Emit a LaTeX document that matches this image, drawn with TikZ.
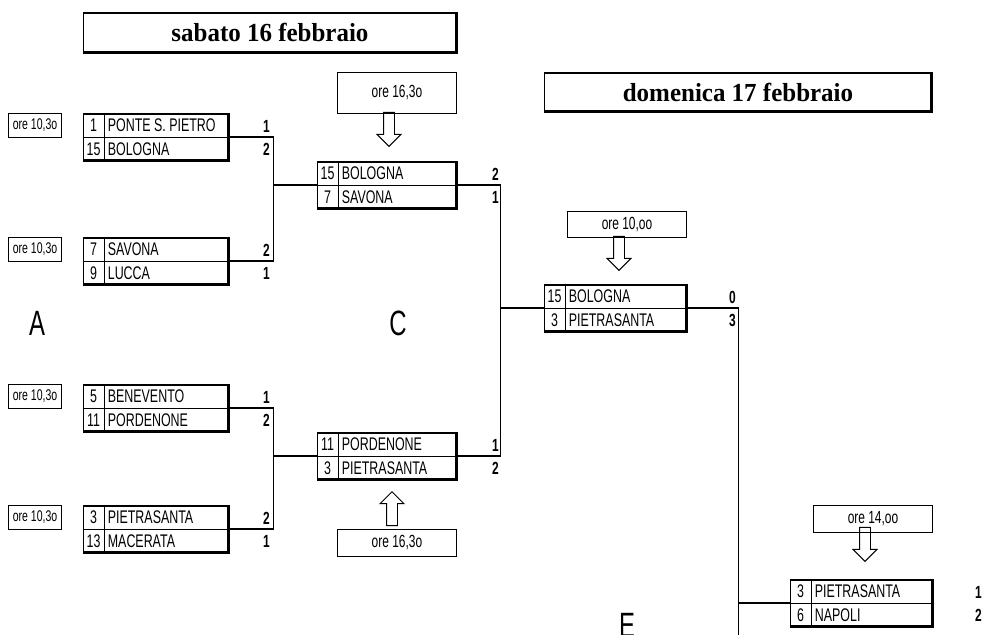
\documentclass[tikz,border=0pt]{standalone}
\usepackage{fontspec}
\setmainfont{Liberation Sans}
\newfontfamily\narrowfont[FakeStretch=0.68]{Liberation Sans}
\newfontfamily\titlefont[FakeStretch=0.96]{Liberation Serif}
\usetikzlibrary{calc,positioning,shapes.arrows}

\newcommand{\pxu}{0.025cm}

% one match: name, centre, width, seed/team on top, seed/team below
\newcommand{\matchbox}[7]{%
  \node[matchframe,minimum width=#3*\pxu] (#1) at (#2) {};
  \draw[divider] (#1.west) -- (#1.east);
  \draw[divider] ($(#1.north west)+(22,0)$) -- ($(#1.south west)+(22,0)$);
  \node[seed] (#1-n1) at ($(#1.west)+(11,-12)$) {#4};
  \node[team] (#1-t1) at ($(#1.west)+(25,-12)$) {#5};
  \node[seed] (#1-n2) at ($(#1.west)+(11,12)$) {#6};
  \node[team] (#1-t2) at ($(#1.west)+(25,12)$) {#7};
}
\newcommand{\scores}[4]{%
  \node[score] (#1-s1) at ($(#1.east)+(#2,-11)$) {#3};
  \node[score] (#1-s2) at ($(#1.east)+(#2,12)$) {#4};
}

\begin{document}
\begin{tikzpicture}[x=\pxu,y=-\pxu,
 boxframe/.style={draw,line width=.6pt,inner sep=0pt,
   path picture={\draw[line width=2.4pt]
     (path picture bounding box.north west)
     -- (path picture bounding box.north east)
     -- (path picture bounding box.south east)
     -- (path picture bounding box.south west);}},
 matchframe/.style={boxframe,minimum height=48*\pxu},
 daytitle/.style={boxframe,font=\titlefont\bfseries\fontsize{18.5}{18.5}\selectfont},
 divider/.style={line width=.6pt},
 seed/.style={inner sep=0pt,font=\narrowfont\fontsize{13}{13}\selectfont},
 team/.style={seed,anchor=west},
 score/.style={inner sep=0pt,font=\narrowfont\bfseries\fontsize{12.5}{12.5}\selectfont},
 timebox/.style={draw,line width=.6pt,inner sep=0pt,
   minimum width=53*\pxu,minimum height=24*\pxu,
   font=\narrowfont\fontsize{11}{11}\selectfont},
 bigtime/.style={draw,line width=.6pt,inner sep=0pt,minimum width=119*\pxu,
   font=\narrowfont\fontsize{12.5}{12.5}\selectfont},
 hollow/.style={single arrow,draw,line width=.7pt,inner sep=5*\pxu,
   single arrow head extend=6.5*\pxu,minimum height=34*\pxu,anchor=tip},
 link/.style={line width=.8pt},
 stagelabel/.style={inner sep=0pt,anchor=base,
   font=\narrowfont\fontsize{25}{25}\selectfont}
]
\useasboundingbox (0,0) rectangle (982,634);

\node[daytitle,minimum width=374*\pxu,minimum height=41*\pxu] (sat) at (270,32.5)
 {sabato 16 febbraio};
\node[daytitle,minimum width=388*\pxu,minimum height=40*\pxu] (sun) at (738,92)
 {domenica 17 febbraio};

\matchbox{m1}{156,137}{146}{1}{PONTE S. PIETRO}{15}{BOLOGNA}
\matchbox{m2}{156,261}{146}{7}{SAVONA}{9}{LUCCA}
\matchbox{m3}{156,408}{146}{5}{BENEVENTO}{11}{PORDENONE}
\matchbox{m4}{156,529}{146}{3}{PIETRASANTA}{13}{MACERATA}
\matchbox{c1}{387,185}{140}{15}{BOLOGNA}{7}{SAVONA}
\matchbox{c2}{387,456}{140}{11}{PORDENONE}{3}{PIETRASANTA}
\matchbox{f1}{615.5,308}{143}{15}{BOLOGNA}{3}{PIETRASANTA}
\matchbox{f2}{861.5,603}{143}{3}{PIETRASANTA}{6}{NAPOLI}

\scores{m1}{37}{1}{2}
\scores{m2}{37}{2}{1}
\scores{m3}{37}{1}{2}
\scores{m4}{37}{2}{1}
\scores{c1}{38}{2}{1}
\scores{c2}{38}{1}{2}
\scores{f1}{45}{0}{3}
\scores{f2}{45}{1}{2}

\node[timebox] (t1) at ($(m1.west)+(-47.5,-12)$) {ore 10,3o};
\node[timebox] (t2) at ($(m2.west)+(-47.5,-12)$) {ore 10,3o};
\node[timebox] (t3) at ($(m3.west)+(-47.5,-12)$) {ore 10,3o};
\node[timebox] (t4) at ($(m4.west)+(-47.5,-12)$) {ore 10,3o};

\node[bigtime,minimum height=41*\pxu] (tc1) at (397,92.5) {ore 16,3o};
\node[bigtime,minimum height=27*\pxu] (tc2) at (397,542.5) {ore 16,3o};
\node[bigtime,minimum height=26*\pxu] (tf1) at (627,224) {ore 10,oo};
\node[bigtime,minimum height=27*\pxu] (tf2) at (873,518.5) {ore 14,oo};

\node[hollow,shape border rotate=270] (a1) at (389,147) {};
\node[hollow,shape border rotate=90] (a2) at (392,491) {};
\node[hollow,shape border rotate=270] (a3) at (619,271) {};
\node[hollow,shape border rotate=270] (a4) at (865,562) {};

\coordinate (j1) at ($(m1.east)+(44,0)$);
\coordinate (j2) at ($(m3.east)+(44,0)$);
\coordinate (j3) at ($(c1.east)+(43,0)$);
\coordinate (j4) at ($(f1.east)+(51,0)$);
\coordinate (edge) at (0,640);

\draw[link] (m1.east) -- (j1) |- (m2.east);
\draw[link] (j1 |- c1.west) -- (c1.west);
\draw[link] (m3.east) -- (j2) |- (m4.east);
\draw[link] (j2 |- c2.west) -- (c2.west);
\draw[link] (c1.east) -- (j3) |- (c2.east);
\draw[link] (j3 |- f1.west) -- (f1.west);
\draw[link] (f1.east) -- (j4) -- (j4 |- edge);
\draw[link] (j4 |- f2.west) -- (f2.west);

\node[stagelabel] (la) at (37,335) {A};
\node[stagelabel] (lc) at (398,335) {C};
\node[stagelabel] (le) at (627,637) {E};
\end{tikzpicture}
\end{document}
